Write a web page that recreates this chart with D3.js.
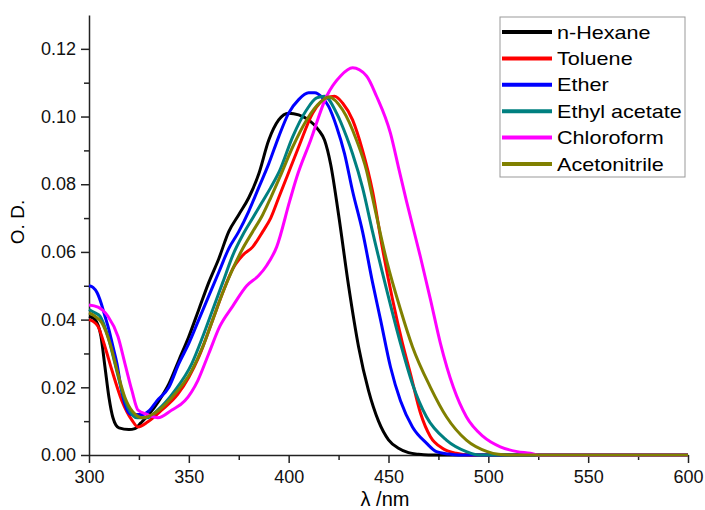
<!DOCTYPE html>
<html>
<head>
<meta charset="utf-8">
<script src="https://cdn.jsdelivr.net/npm/d3@7"></script>
<style>
  body { margin: 0; background: #fff; }
  svg { display: block; font-family: "Liberation Sans", Arial, sans-serif; }
  .axis path, .axis line { stroke: #222; stroke-width: 1.5; }
  .axis text { fill: #111; font-size: 18px; }
</style>
</head>
<body>
<svg id="chart" width="705" height="510"></svg>
<script>
"use strict";

// spectra: [wavelength nm, O.D.]
var nHexane = [[300,0.041],[303,0.040],[306,0.035],[308,0.026],[310,0.017],[312,0.011],[315,0.008],[320,0.0075],[323,0.0078],
  [326,0.0095],[330,0.012],[335,0.016],[340,0.021],[345,0.028],[350,0.035],[355,0.043],[360,0.051],[365,0.058],[370,0.066],
  [375,0.071],[380,0.076],[385,0.083],[390,0.093],[395,0.099],[400,0.101],[405,0.1005],[410,0.099],[415,0.096],[418,0.093],
  [421,0.086],[425,0.071],[430,0.050],[435,0.032],[440,0.019],[445,0.010],[450,0.0045],[455,0.002],[460,0.0007],[465,0.0002],
  [470,0],[600,0]]
var toluene = [[300,0.040],[302,0.0395],[304.5,0.038],[308,0.032],[311.5,0.025],[316.5,0.016],[321.5,0.0103],[324.5,0.0083],
  [329.5,0.0098],[336.5,0.0133],[344.5,0.018],[350,0.023],[355,0.029],[362,0.040],[367,0.048],[372,0.055],[377,0.059],
  [382,0.0615],[387,0.066],[391,0.070],[395,0.076],[399,0.082],[405,0.091],[412,0.101],[419,0.1055],[423,0.106],[427,0.104],
  [432,0.099],[437,0.090],[442,0.078],[447,0.061],[452,0.046],[457,0.033],[461,0.024],[466,0.0124],[471,0.0054],[477,0.002],
  [484,0.0005],[490,0],[600,0]]
var ether = [[300,0.050],[302,0.0495],[304,0.048],[306,0.045],[308,0.041],[310,0.037],[312,0.032],[314,0.027],[316,0.020],
  [318,0.015],[321,0.012],[327,0.012],[330,0.013],[334,0.016],[340,0.020],[345,0.027],[350,0.033],[355,0.040],[360,0.047],
  [365,0.054],[370,0.061],[375,0.066],[380,0.072],[385,0.079],[390,0.086],[395,0.094],[400,0.101],[405,0.105],[410,0.107],
  [413,0.107],[417,0.1055],[420,0.103],[424,0.097],[428,0.089],[432,0.078],[437,0.066],[442,0.051],[446,0.040],[451,0.026],
  [456,0.016],[462,0.0083],[469,0.0035],[474,0.001],[480,0.0003],[485,0],[600,0]]
var ethylAcetate = [[300,0.043],[303,0.042],[305.5,0.041],[309.5,0.035],[313,0.027],[316.5,0.019],[319.5,0.014],[324,0.011],
  [329,0.011],[334.5,0.0133],[343,0.019],[351.5,0.027],[357,0.035],[362,0.043],[367,0.051],[372,0.059],[377,0.065],[382,0.070],
  [387,0.075],[391,0.079],[395.5,0.084],[402,0.094],[409,0.102],[414,0.1055],[418,0.106],[424,0.101],[429,0.094],[432,0.089],
  [437,0.079],[442,0.066],[449,0.049],[456,0.033],[462,0.021],[469,0.0113],[479,0.0044],[489,0.001],[495,0],[600,0]]
var chloroform = [[300,0.0443],[304.5,0.0437],[309.5,0.041],[314.5,0.035],[318,0.027],[321.5,0.019],[324.5,0.0133],[329,0.012],
  [334.5,0.011],[341.5,0.0133],[348,0.016],[354.5,0.022],[360,0.030],[365.5,0.038],[372,0.044],[379,0.050],[385,0.053],
  [389,0.056],[394,0.0615],[400.5,0.075],[404,0.082],[411,0.093],[419,0.106],[426,0.112],[432,0.1144],[439,0.112],[444,0.106],
  [451,0.095],[455,0.085],[459,0.075],[466,0.0585],[471,0.046],[476,0.033],[482.5,0.020],[489,0.0113],[497.5,0.0054],
  [506,0.0024],[514.5,0.001],[521,0.0005],[525,0],[600,0]]
var acetonitrile = [[300,0.042],[303,0.041],[306.5,0.039],[310.5,0.033],[314.5,0.024],[318,0.017],[322,0.0127],[327,0.011],
  [333,0.0124],[341.5,0.017],[351.5,0.025],[357,0.032],[362,0.040],[367,0.048],[372,0.055],[377,0.061],[382,0.066],[387,0.071],
  [391,0.076],[395.5,0.082],[402,0.091],[409,0.099],[416,0.1043],[420,0.1058],[427,0.102],[434,0.093],[439,0.084],[442,0.076],
  [449,0.0576],[456,0.043],[462,0.032],[471,0.020],[479,0.0113],[489,0.0044],[499.5,0.001],[505,0.0002],[510,0],[600,0]]

var seriesNames = ["n-Hexane", "Toluene", "Ether", "Ethyl acetate", "Chloroform", "Acetonitrile"]
var seriesData = [nHexane, toluene, ether, ethylAcetate, chloroform, acetonitrile]
var seriesColors = ["#000000", "#ff0000", "#0000ff", "#008080", "#ff00ff", "#808000"]

var xTicks = [300, 350, 400, 450, 500, 550, 600]
var xMinorTicks = [325, 375, 425, 475, 525, 575]
var yTicks = [0, 0.02, 0.04, 0.06, 0.08, 0.10, 0.12]
var yMinorTicks = [0.01, 0.03, 0.05, 0.07, 0.09, 0.11]

var svg = d3.select("#chart")
var x = d3.scaleLinear().domain([300, 600]).range([89, 688])
var y = d3.scaleLinear().domain([0, 0.13]).range([455, 15])

svg.append("g")
    .attr("class", "axis")
    .attr("transform", "translate(0,455)")
    .call(d3.axisBottom(x).tickValues(xMinorTicks).tickSize(5).tickFormat(""))
    .call(g => g.select(".domain").remove())

svg.append("g")
    .attr("class", "axis")
    .attr("transform", "translate(0,455)")
    .call(d3.axisBottom(x).tickValues(xTicks).tickSizeInner(8).tickSizeOuter(0).tickPadding(7).tickFormat(d3.format("d")))

svg.append("g")
    .attr("class", "axis")
    .attr("transform", "translate(89,0)")
    .call(d3.axisLeft(y).tickValues(yMinorTicks).tickSize(5).tickFormat(""))
    .call(g => g.select(".domain").remove())

svg.append("g")
    .attr("class", "axis")
    .attr("transform", "translate(89,0)")
    .call(d3.axisLeft(y).tickValues(yTicks).tickSizeInner(8).tickSizeOuter(0).tickPadding(5).tickFormat(d3.format(".2f")))

var line = d3.line()
    .x(d => x(d[0]))
    .y(d => y(d[1]))
    .curve(d3.curveMonotoneX)

svg.append("g").selectAll("path")
    .data(seriesData)
    .enter().append("path")
    .attr("d", line)
    .attr("fill", "none")
    .attr("stroke", (d, i) => seriesColors[i])
    .attr("stroke-width", 3)
    .attr("stroke-linejoin", "round")

// axis titles
svg.append("text")
    .attr("transform", "translate(24,222)rotate(-90)")
    .attr("text-anchor", "middle")
    .style("font-size", "19px")
    .text("O. D.")

svg.append("text")
    .attr("x", 385)
    .attr("y", 506)
    .attr("text-anchor", "middle")
    .style("font-size", "20px")
    .text("λ /nm")

// legend
var legend = svg.append("g")
legend.append("rect")
    .attr("x", 500).attr("y", 17)
    .attr("width", 185).attr("height", 160)
    .attr("fill", "#fff")
    .attr("stroke", "#999")
    .attr("stroke-width", 1)

var rows = legend.selectAll(".row")
    .data(seriesNames)
    .enter().append("g")
    .attr("class", "row")
    .attr("transform", (d, i) => "translate(0," + (32 + i * 26.4) + ")")

rows.append("line")
    .attr("x1", 502).attr("x2", 552)
    .attr("stroke", (d, i) => seriesColors[i])
    .attr("stroke-width", 4)

rows.append("text")
    .attr("transform", "translate(557,6.5)scale(1.2,1)")
    .style("font-size", "18px")
    .text(d => d)
</script>
</body>
</html>
